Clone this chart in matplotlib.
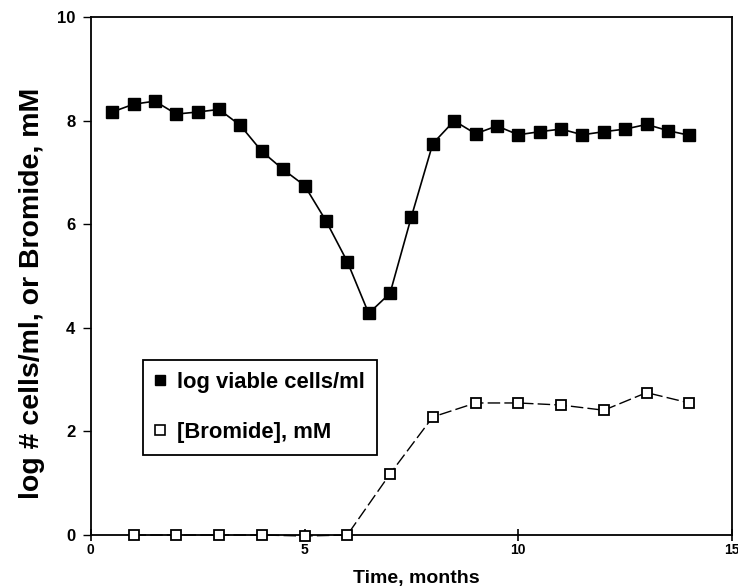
import matplotlib
matplotlib.use('Agg')
import matplotlib.pyplot as plt
from matplotlib.lines import Line2D

# 数据: 活菌数(对数)与溴离子浓度
months_cells = [0.5, 1.0, 1.5, 2.0, 2.5, 3.0, 3.5, 4.0, 4.5, 5.0, 5.5, 6.0, 6.5, 7.0,
                7.5, 8.0, 8.5, 9.0, 9.5, 10.0, 10.5, 11.0, 11.5, 12.0, 12.5, 13.0, 13.5, 14.0]
log_cells = [8.17, 8.32, 8.38, 8.13, 8.17, 8.22, 7.91, 7.41, 7.06, 6.75, 6.07, 5.28, 4.28, 4.67,
             6.15, 7.56, 8.00, 7.75, 7.90, 7.73, 7.79, 7.84, 7.73, 7.79, 7.84, 7.93, 7.81, 7.72]

months_br = [1, 2, 3, 4, 5, 6, 7, 8, 9, 10, 11, 12, 13, 14]
bromide = [0.0, 0.0, 0.0, 0.0, -0.02, 0.0, 1.18, 2.28, 2.55, 2.55, 2.51, 2.41, 2.75, 2.55]

xticks = [0, 5, 10, 15]
yticks = [0, 2, 4, 6, 8, 10]

plt.rcParams['font.family'] = ['Liberation Sans', 'DejaVu Sans']
plt.rcParams['font.weight'] = 'bold'

fig = plt.figure(figsize=(7.38, 5.87), dpi=100)
ax = fig.add_axes([0.123, 0.0886, 0.869, 0.882])

ax.plot(months_cells, log_cells, color='black', lw=1.2, marker='s', ms=8,
        mfc='black', mec='black', zorder=3, clip_on=False)
ax.plot(months_br, bromide, color='black', lw=1.0, dashes=(9, 3), marker='s', ms=7.5,
        mfc='white', mec='black', mew=1.3, zorder=3, clip_on=False)

ax.set_xlim(0, 15)
ax.set_ylim(0, 10)
ax.set_xticks(xticks)
ax.set_yticks(yticks)
ax.tick_params(axis='x', direction='inout', length=8, width=1.2, labelsize=10, pad=2)
ax.tick_params(axis='y', direction='out', length=6, width=1.0, labelsize=12, pad=5)
for lab in ax.get_xticklabels() + ax.get_yticklabels():
    lab.set_fontweight('bold')
for s in ax.spines.values():
    s.set_linewidth(1.3)

ax.set_xlabel('Time, months', fontsize=14, fontweight='bold')
ax.xaxis.set_label_coords(0.507, -0.068)
ax.set_ylabel('log # cells/ml, or Bromide, mM', fontsize=20.5, fontweight='bold')
ax.yaxis.set_label_coords(-0.072, 0.467)

handles = [Line2D([], [], ls='none', marker='s', ms=7, mfc='black', mec='black'),
           Line2D([], [], ls='none', marker='s', ms=6.5, mfc='white', mec='black', mew=1.2)]
leg = ax.legend(handles, ['log viable cells/ml', '[Bromide], mM'], loc='upper left',
                bbox_to_anchor=(0.081, 0.338), fancybox=False, framealpha=1,
                edgecolor='black', prop={'size': 15.8, 'weight': 'bold'},
                labelspacing=1.3, handlelength=0.5, handletextpad=0.5,
                borderpad=0.55, borderaxespad=0)
leg.get_frame().set_linewidth(1.3)

fig.savefig('out.png', dpi=100)
